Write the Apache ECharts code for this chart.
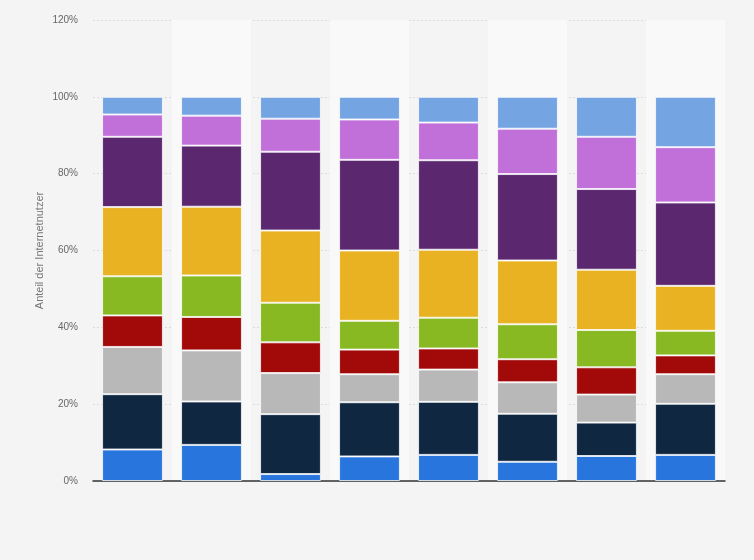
<!DOCTYPE html>
<html><head><meta charset="utf-8">
<script src="https://cdn.jsdelivr.net/npm/echarts@6/dist/echarts.min.js"></script>
<style>html,body{margin:0;padding:0;background:#f4f4f4;}#c{width:754px;height:560px;}</style>
</head><body><div id="c"></div>
<script>
const categories = ['1','2','3','4','5','6','7','8'];
const yTicks = [0,20,40,60,80,100,120];
const s1 = [8.2, 9.4, 1.8, 6.4, 6.8, 5.0, 6.5, 6.8];
const s2 = [14.4, 11.3, 15.6, 14.1, 13.8, 12.5, 8.7, 13.3];
const s3 = [12.3, 13.3, 10.7, 7.3, 8.4, 8.2, 7.3, 7.7];
const s4 = [8.2, 8.7, 8.0, 6.4, 5.5, 6.0, 7.1, 4.9];
const s5 = [10.2, 10.8, 10.3, 7.5, 8.0, 9.1, 9.7, 6.4];
const s6 = [18.0, 17.9, 18.8, 18.3, 17.7, 16.6, 15.7, 11.7];
const s7 = [18.3, 15.9, 20.5, 23.6, 23.3, 22.5, 21.0, 21.7];
const s8 = [5.8, 7.8, 8.6, 10.5, 9.8, 11.8, 13.6, 14.4];
const s9 = [4.6, 4.9, 5.7, 5.9, 6.7, 8.3, 10.4, 13.1];
const seriesData = [s1,s2,s3,s4,s5,s6,s7,s8,s9];
const colors = ['#2876dd','#0f2741','#b8b8b8','#a20a0a','#88b923','#e9b222','#5b2870','#c170d9','#75a4e2'];

const chart = echarts.init(document.getElementById('c'));
chart.setOption({
  backgroundColor: '#f4f4f4',
  animation: false,
  grid: {left: 93, right: 29, top: 20, bottom: 79},
  xAxis: {
    type: 'category', data: categories,
    axisLine: {lineStyle: {color: '#333', width: 1.5}},
    axisTick: {show: false}, axisLabel: {show: false},
    splitArea: {show: true, areaStyle: {color: ['rgba(0,0,0,0)', '#f9f9f9']}}
  },
  yAxis: {
    type: 'value', min: yTicks[0], max: yTicks[yTicks.length-1], interval: 20,
    name: 'Anteil der Internetnutzer', nameLocation: 'middle', nameGap: 48, nameMoveOverlap: false,
    nameTextStyle: {color: '#777', fontSize: 11, fontFamily: 'Arial, Liberation Sans, sans-serif'},
    axisLine: {show: false}, axisTick: {show: false},
    axisLabel: {formatter: '{value}%', color: '#666', fontSize: 10, margin: 15, fontFamily: 'Arial, Liberation Sans, sans-serif'},
    splitLine: {lineStyle: {color: '#dcdcdc', type: [2,2], width: 1}}
  },
  series: seriesData.map((d, i) => ({
    type: 'bar', stack: 'total', data: d, barWidth: '77%',
    itemStyle: {color: colors[i], borderColor: 'rgba(255,255,255,0.75)', borderWidth: 1}
  }))
});
</script></body></html>
